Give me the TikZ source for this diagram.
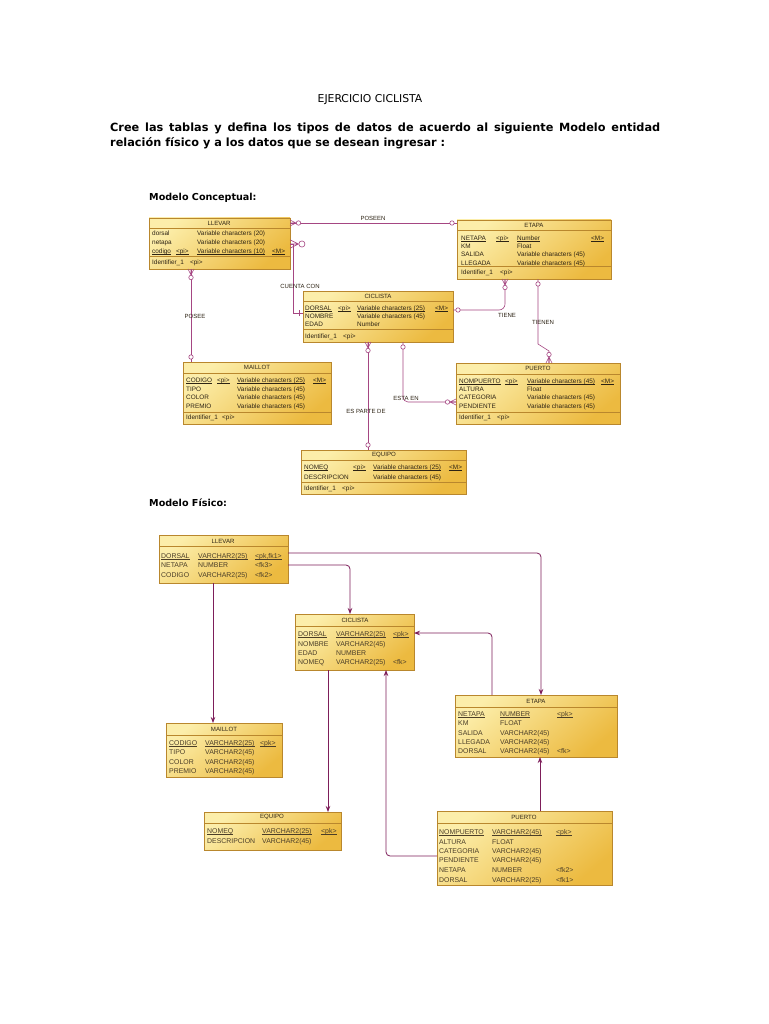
\documentclass[tikz,border=0pt]{standalone}
\usepackage{fontspec}
\setmainfont{DejaVu Sans}
\newfontfamily\tabfont{Liberation Sans}
\usetikzlibrary{arrows.meta}
\definecolor{tabL}{RGB}{252,238,170}
\definecolor{tabR}{RGB}{236,186,64}
\definecolor{tabB}{RGB}{185,135,45}
\definecolor{relc}{RGB}{165,70,130}
\definecolor{fkc}{RGB}{125,30,90}
\definecolor{txc}{RGB}{45,35,20}
\definecolor{txp}{RGB}{75,62,40}
\newcounter{tn}
\newcommand\ul[1]{\setbox0\hbox{#1}\rlap{\rule[-1pt]{\wd0}{0.35pt}}\box0}
\newcommand\tx[3]{\stepcounter{tn}\node[txt] (t\arabic{tn}) at (#1,#2) {#3};}
\newcommand\px[3]{\stepcounter{tn}\node[ptxt] (t\arabic{tn}) at (#1,#2) {#3};}
\newcommand\ttl[3]{\stepcounter{tn}\node[ttl] (t\arabic{tn}) at (#1,#2) {#3};}
\tikzset{
  tab/.style={draw=tabB, line width=0.6pt, top color=tabL, bottom color=tabR, shading angle=40, inner sep=0pt, outer sep=0pt, anchor=north west},
  sep/.style={draw=tabB, line width=0.5pt},
  txt/.style={anchor=base west, yshift=-2.3pt, inner sep=0pt, font=\tabfont\fontsize{6.4}{7}\selectfont, text=txc},
  ptxt/.style={anchor=base west, yshift=-2.4pt, inner sep=0pt, font=\tabfont\fontsize{6.9}{8}\selectfont, text=txp},
  ttl/.style={inner sep=0pt, font=\tabfont\fontsize{6.1}{7}\selectfont, text=txc},
  rlab/.style={inner sep=0pt, font=\tabfont\fontsize{6}{7}\selectfont, text=txc},
  rel/.style={draw=relc, line width=0.6pt},
  fkl/.style={draw=fkc, line width=0.8pt, rounded corners=4pt, -{Stealth[length=6pt,width=4.5pt]}},
  manyc/.pic={\draw[relc, line width=0.6pt] (0,-3)--(6,0)--(0,3) (0,0)--(6,0);
              \draw[relc, line width=0.6pt, fill=white] (8.5,0) circle (2.2pt);},
  onec/.pic={\draw[relc, line width=0.6pt, fill=white] (5,0) circle (2.2pt);},
  barm/.pic={\draw[relc, line width=0.6pt] (4,-3)--(4,3);}
}
\begin{document}
\begin{tikzpicture}[x=1pt,y=-1pt]
\fill[white] (0,0) rectangle (768,1024);
\useasboundingbox (0,0) rectangle (768,1024);

% headings
\node[inner sep=0pt, font=\fontsize{10.8}{12}\selectfont] (title) at (370,100) {EJERCICIO CICLISTA};
\node[inner sep=0pt, anchor=west, font=\bfseries\fontsize{11.3}{13}\selectfont] (par1) at (110,128) {\makebox[550pt][s]{Cree las tablas y defina los tipos de datos de acuerdo al siguiente Modelo entidad}};
\node[inner sep=0pt, anchor=west, font=\bfseries\fontsize{11.3}{13}\selectfont] (par2) at (110,143) {relación físico y a los datos que se desean ingresar :};
\node[inner sep=0pt, anchor=west, font=\bfseries\fontsize{9.6}{11}\selectfont] (hc) at (149,198) {Modelo Conceptual:};
\node[inner sep=0pt, anchor=west, font=\bfseries\fontsize{9.6}{11}\selectfont] (hf) at (149,503) {Modelo Físico:};

% ===== Conceptual tables =====
\node[tab, minimum width=141pt, minimum height=51pt] (cLlevar) at (149,218) {};
\draw[sep] (149,228) -- (290,228) (149,256) -- (290,256);
\ttl{219}{223}{LLEVAR}
\tx{152}{233}{dorsal}\tx{197}{233}{Variable characters (20)}
\tx{152}{242}{netapa}\tx{197}{242}{Variable characters (20)}
\tx{152}{251}{\ul{codigo}}\tx{176}{251}{\ul{<pi>}}\tx{197}{251}{\ul{Variable characters (10)}}\tx{272}{251}{\ul{<M>}}
\tx{152}{262}{Identifier\_1}\tx{190}{262}{<pi>}

\node[tab, minimum width=154pt, minimum height=59pt] (cEtapa) at (457,220) {};
\draw[sep] (457,230) -- (611,230) (457,266) -- (611,266);
\ttl{534}{225}{ETAPA}
\tx{461}{238}{\ul{NETAPA}}\tx{496}{238}{\ul{<pi>}}\tx{517}{238}{\ul{Number}}\tx{591}{238}{\ul{<M>}}
\tx{461}{246}{KM}\tx{517}{246}{Float}
\tx{461}{254}{SALIDA}\tx{517}{254}{Variable characters (45)}
\tx{461}{263}{LLEGADA}\tx{517}{263}{Variable characters (45)}
\tx{461}{272}{Identifier\_1}\tx{500}{272}{<pi>}

\node[tab, minimum width=150pt, minimum height=51pt] (cCiclista) at (303,291) {};
\draw[sep] (303,301) -- (453,301) (303,329) -- (453,329);
\ttl{378}{296}{CICLISTA}
\tx{305}{308}{\ul{DORSAL}}\tx{338}{308}{\ul{<pi>}}\tx{357}{308}{\ul{Variable characters (25)}}\tx{435}{308}{\ul{<M>}}
\tx{305}{316}{NOMBRE}\tx{357}{316}{Variable characters (45)}
\tx{305}{324}{EDAD}\tx{357}{324}{Number}
\tx{305}{336}{Identifier\_1}\tx{343}{336}{<pi>}

\node[tab, minimum width=148pt, minimum height=62pt] (cMaillot) at (183,362) {};
\draw[sep] (183,373) -- (331,373) (183,412) -- (331,412);
\ttl{257}{367}{MAILLOT}
\tx{186}{380}{\ul{CODIGO}}\tx{217}{380}{\ul{<pi>}}\tx{237}{380}{\ul{Variable characters (25)}}\tx{313}{380}{\ul{<M>}}
\tx{186}{389}{TIPO}\tx{237}{389}{Variable characters (45)}
\tx{186}{397}{COLOR}\tx{237}{397}{Variable characters (45)}
\tx{186}{406}{PREMIO}\tx{237}{406}{Variable characters (45)}
\tx{186}{417}{Identifier\_1}\tx{222}{417}{<pi>}

\node[tab, minimum width=164pt, minimum height=61pt] (cPuerto) at (456,363) {};
\draw[sep] (456,374) -- (620,374) (456,412) -- (620,412);
\ttl{538}{368}{PUERTO}
\tx{459}{381}{\ul{NOMPUERTO}}\tx{505}{381}{\ul{<pi>}}\tx{527}{381}{\ul{Variable characters (45)}}\tx{601}{381}{\ul{<M>}}
\tx{459}{389}{ALTURA}\tx{527}{389}{Float}
\tx{459}{397}{CATEGORIA}\tx{527}{397}{Variable characters (45)}
\tx{459}{406}{PENDIENTE}\tx{527}{406}{Variable characters (45)}
\tx{459}{417}{Identifier\_1}\tx{497}{417}{<pi>}

\node[tab, minimum width=165pt, minimum height=44pt] (cEquipo) at (301,450) {};
\draw[sep] (301,460) -- (466,460) (301,482) -- (466,482);
\ttl{384}{455}{EQUIPO}
\tx{304}{467}{\ul{NOMEQ}}\tx{353}{467}{\ul{<pi>}}\tx{373}{467}{\ul{Variable characters (25)}}\tx{449}{467}{\ul{<M>}}
\tx{304}{477}{DESCRIPCION}\tx{373}{477}{Variable characters (45)}
\tx{304}{488}{Identifier\_1}\tx{342}{488}{<pi>}

% ===== Conceptual relationships =====
\draw[rel] (cLlevar.east |- 0,223) -- (cEtapa.west |- 0,223);
\node[rlab] (lPoseen) at (373,218) {POSEEN};
\draw[rel] (cLlevar.east |- 0,244) -- (293,244) -- (293,313) -- (cCiclista.west |- 0,313);
\node[rlab] (lCuenta) at (300,286) {CUENTA CON};
\draw[rel] (cLlevar.south -| 191,0) -- (cMaillot.north -| 191,0);
\node[rlab] (lPosee) at (195,316) {POSEE};
\draw[rel, rounded corners=6pt] (cCiclista.east |- 0,310) -| (cEtapa.south -| 505,0);
\node[rlab] (lTiene) at (507,315) {TIENE};
\draw[rel] (cEtapa.south -| 538,0) -- (538,344) -- (549,351) -- (cPuerto.north -| 549,0);
\node[rlab] (lTienen) at (543,322) {TIENEN};
\draw[rel] (cCiclista.south -| 368,0) -- (cEquipo.north -| 368,0);
\node[rlab] (lParte) at (366,411) {ES PARTE DE};
\draw[rel, rounded corners=5pt] (cCiclista.south -| 403,0) |- (cPuerto.west |- 0,402);
\node[rlab] (lEsta) at (406,398) {ESTA EN};

\pic at (cLlevar.east |- 0,223) {manyc};
\pic[rotate=180] at (cEtapa.west |- 0,223) {onec};
\pic[scale=1.4] at (cLlevar.east |- 0,244) {manyc};
\pic[rotate=180] at (cCiclista.west |- 0,313) {barm};
\pic[rotate=-90] at (cLlevar.south -| 191,0) {manyc};
\pic[rotate=90] at (cMaillot.north -| 191,0) {onec};
\pic at (cCiclista.east |- 0,310) {onec};
\pic[rotate=-90] at (cEtapa.south -| 505,0) {manyc};
\pic[rotate=-90] at (cEtapa.south -| 538,0) {onec};
\pic[rotate=90] at (cPuerto.north -| 549,0) {manyc};
\pic[rotate=-90] at (cCiclista.south -| 368,0) {manyc};
\pic[rotate=90] at (cEquipo.north -| 368,0) {onec};
\pic[rotate=-90] at (cCiclista.south -| 403,0) {onec};
\pic[rotate=180] at (cPuerto.west |- 0,402) {manyc};

% ===== Physical tables =====
\node[tab, minimum width=129pt, minimum height=48pt] (pLlevar) at (159,535) {};
\draw[sep] (159,546) -- (288,546);
\ttl{223}{541}{LLEVAR}
\px{161}{556}{\ul{DORSAL}}\px{198}{556}{\ul{VARCHAR2(25)}}\px{255}{556}{\ul{<pk,fk1>}}
\px{161}{565}{NETAPA}\px{198}{565}{NUMBER}\px{255}{565}{<fk3>}
\px{161}{575}{CODIGO}\px{198}{575}{VARCHAR2(25)}\px{255}{575}{<fk2>}

\node[tab, minimum width=119pt, minimum height=56pt] (pCiclista) at (295,614) {};
\draw[sep] (295,626) -- (414,626);
\ttl{355}{620}{CICLISTA}
\px{298}{634}{\ul{DORSAL}}\px{336}{634}{\ul{VARCHAR2(25)}}\px{393}{634}{\ul{<pk>}}
\px{298}{644}{NOMBRE}\px{336}{644}{VARCHAR2(45)}
\px{298}{653}{EDAD}\px{336}{653}{NUMBER}
\px{298}{662}{NOMEQ}\px{336}{662}{VARCHAR2(25)}\px{393}{662}{<fk>}

\node[tab, minimum width=162pt, minimum height=62pt] (pEtapa) at (455,695) {};
\draw[sep] (455,707) -- (617,707);
\ttl{536}{701}{ETAPA}
\px{458}{714}{\ul{NETAPA}}\px{500}{714}{\ul{NUMBER}}\px{557}{714}{\ul{<pk>}}
\px{458}{723}{KM}\px{500}{723}{FLOAT}
\px{458}{733}{SALIDA}\px{500}{733}{VARCHAR2(45)}
\px{458}{742}{LLEGADA}\px{500}{742}{VARCHAR2(45)}
\px{458}{751}{DORSAL}\px{500}{751}{VARCHAR2(45)}\px{557}{751}{<fk>}

\node[tab, minimum width=116pt, minimum height=54pt] (pMaillot) at (166,723) {};
\draw[sep] (166,735) -- (282,735);
\ttl{224}{729}{MAILLOT}
\px{169}{743}{\ul{CODIGO}}\px{205}{743}{\ul{VARCHAR2(25)}}\px{260}{743}{\ul{<pk>}}
\px{169}{752}{TIPO}\px{205}{752}{VARCHAR2(45)}
\px{169}{762}{COLOR}\px{205}{762}{VARCHAR2(45)}
\px{169}{771}{PREMIO}\px{205}{771}{VARCHAR2(45)}

\node[tab, minimum width=137pt, minimum height=38pt] (pEquipo) at (204,812) {};
\draw[sep] (204,823) -- (341,823);
\ttl{272}{817}{EQUIPO}
\px{207}{831}{\ul{NOMEQ}}\px{262}{831}{\ul{VARCHAR2(25)}}\px{321}{831}{\ul{<pk>}}
\px{207}{841}{DESCRIPCION}\px{262}{841}{VARCHAR2(45)}

\node[tab, minimum width=175pt, minimum height=74pt] (pPuerto) at (437,811) {};
\draw[sep] (437,823) -- (612,823);
\ttl{524}{817}{PUERTO}
\px{439}{832}{\ul{NOMPUERTO}}\px{492}{832}{\ul{VARCHAR2(45)}}\px{556}{832}{\ul{<pk>}}
\px{439}{842}{ALTURA}\px{492}{842}{FLOAT}
\px{439}{851}{CATEGORIA}\px{492}{851}{VARCHAR2(45)}
\px{439}{860}{PENDIENTE}\px{492}{860}{VARCHAR2(45)}
\px{439}{870}{NETAPA}\px{492}{870}{NUMBER}\px{556}{870}{<fk2>}
\px{439}{880}{DORSAL}\px{492}{880}{VARCHAR2(25)}\px{556}{880}{<fk1>}

% ===== Physical references =====
\draw[fkl] (pLlevar.east |- 0,553) -| (pEtapa.north -| 541,0);
\draw[fkl] (pLlevar.east |- 0,565) -| (pCiclista.north -| 350,0);
\draw[fkl] (pLlevar.south -| 213,0) -- (pMaillot.north -| 213,0);
\draw[fkl] (pCiclista.south -| 328,0) -- (pEquipo.north -| 328,0);
\draw[fkl] (pEtapa.north -| 492,0) |- (pCiclista.east |- 0,633);
\draw[fkl] (pPuerto.west |- 0,856) -| (pCiclista.south -| 386,0);
\draw[fkl] (pPuerto.north -| 540,0) -- (pEtapa.south -| 540,0);
\end{tikzpicture}
\end{document}
